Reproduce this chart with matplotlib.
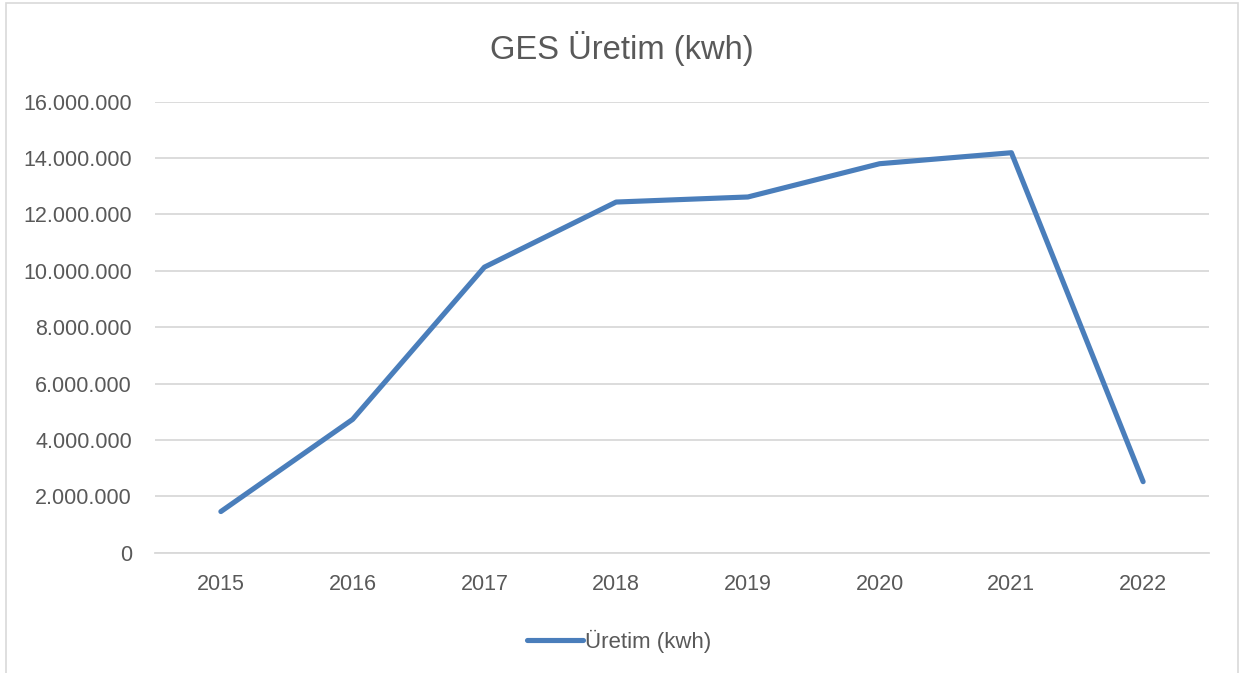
import matplotlib
matplotlib.use("Agg")
import matplotlib.pyplot as plt
from matplotlib.ticker import FuncFormatter
from matplotlib.patches import Rectangle

years = ["2015", "2016", "2017", "2018", "2019", "2020", "2021", "2022"]
uretim = [1460000, 4730000, 10130000, 12440000, 12620000, 13800000, 14190000, 2520000]
series_name = "Üretim (kwh)"
title = "GES Üretim (kwh)"
yticks = [0, 2000000, 4000000, 6000000, 8000000, 10000000, 12000000, 14000000, 16000000]

plt.rcParams['font.family'] = ['Liberation Sans', 'DejaVu Sans']
W, H = 1239, 673
fig = plt.figure(figsize=(W/100, H/100), dpi=100)
fig.patch.set_facecolor('white')

# chart border
fig.add_artist(Rectangle((6/W, -0.05), (1238-6)/W, 1 - 3/H + 0.05, transform=fig.transFigure,
                         fill=False, edgecolor='#d9d9d9', linewidth=1.2))

left, right, top, bottom = 155, 1209, 101.7, 552.7
ax = fig.add_axes([left/W, 1-bottom/H, (right-left)/W, (bottom-top)/H])

x = list(range(len(years)))
line, = ax.plot(x, uretim, color='#4a7ebb', linewidth=3.7, solid_capstyle='round',
                solid_joinstyle='round', label=series_name)

ax.set_xlim(-0.5, len(years)-0.5)
ax.set_ylim(0, 16000000)
ax.set_yticks(yticks)
ax.set_xticks(x)
ax.set_xticklabels(years)
ax.yaxis.set_major_formatter(FuncFormatter(lambda v, p: f"{int(v):,}".replace(",", ".")))
ax.grid(axis='y', color='#d9d9d9', linewidth=1.3)
ax.set_axisbelow(True)
for s in ['top', 'right', 'left']:
    ax.spines[s].set_visible(False)
ax.spines['bottom'].set_color('#d9d9d9')
ax.spines['bottom'].set_linewidth(1.3)
ax.tick_params(axis='both', length=0, labelsize=15.5, colors='#595959')
ax.tick_params(axis='y', pad=16.5)
ax.tick_params(axis='x', pad=15)

fig.text(622/W, 1-48/H, title, ha='center', va='center', fontsize=23.6, color='#595959')

leg = fig.legend(handles=[line], loc='center', bbox_to_anchor=(619.5/W, 1-641/H), frameon=False,
                 fontsize=16, handlelength=2.5, handletextpad=0.1, labelcolor='#595959')

fig.savefig("out.png", dpi=100, facecolor='white')
